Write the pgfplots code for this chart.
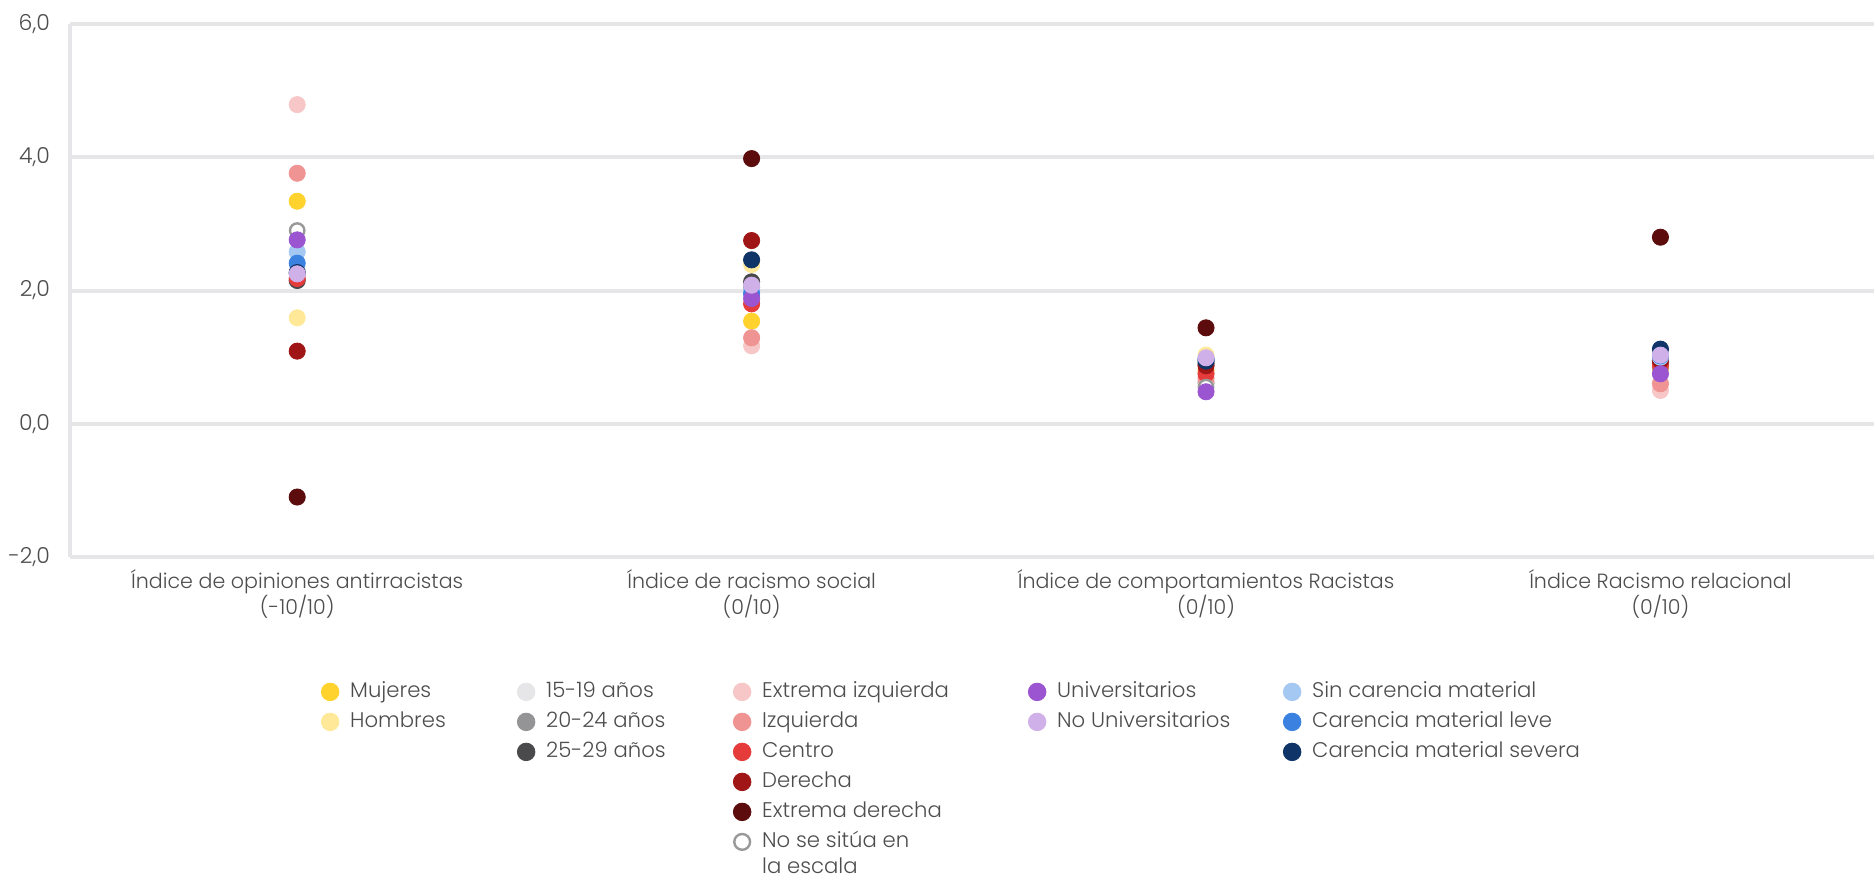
\documentclass[border=0pt]{standalone}
\usepackage{fontspec}
\setmainfont{Poppins}[UprightFont={* Light}]
\usepackage{pgfplots}
\pgfplotsset{compat=1.18}
\definecolor{gridc}{HTML}{E6E6E8}
\definecolor{txt}{HTML}{4D4D4D}
\definecolor{cMuj}{HTML}{FFD22E}
\definecolor{cHom}{HTML}{FFE999}
\definecolor{cA}{HTML}{E6E6E8}
\definecolor{cB}{HTML}{949496}
\definecolor{cC}{HTML}{4A4A4C}
\definecolor{cEI}{HTML}{F7C7C7}
\definecolor{cI}{HTML}{F09393}
\definecolor{cCe}{HTML}{E63B3B}
\definecolor{cD}{HTML}{A01515}
\definecolor{cED}{HTML}{5C0C0C}
\definecolor{cNS}{HTML}{999999}
\definecolor{cU}{HTML}{9B55D0}
\definecolor{cNU}{HTML}{D0B0E8}
\definecolor{cS}{HTML}{A5C8F2}
\definecolor{cL}{HTML}{3B82E0}
\definecolor{cSe}{HTML}{0F3468}
\pgfplotsset{
  dot/.style={only marks, mark=*, mark size=4.05pt, mark options={draw=#1, fill=#1, line width=0.4pt}},
  ring/.style={only marks, mark=*, mark size=3.6pt, mark options={draw=cNS, fill=white, line width=1.2pt}},
  ldot/.style={only marks, mark=*, mark size=4.4pt, mark options={draw=#1, fill=#1, line width=0.4pt}},
  lring/.style={only marks, mark=*, mark size=3.95pt, mark options={draw=cNS, fill=white, line width=1.2pt}},
}
\newcommand{\blank}{\addlegendimage{empty legend}\addlegendentry{}}
\newcommand{\hs}{\hspace*{3.5pt}}
\begin{document}
\fontsize{10}{13}\selectfont
\begin{tikzpicture}[x=1pt,y=1pt]
\begin{axis}[
  at={(0,0)}, anchor=south west,
  scale only axis, width=902pt, height=266.5pt,
  xmin=-0.5, xmax=3.47, ymin=-2, ymax=6,
  clip=false,
  axis lines=left,
  axis line style={-},
  x axis line style={draw=none},
  y axis line style={draw=gridc, line width=2pt},
  ymajorgrids, grid style={draw=gridc, line width=2pt},
  major tick length=0pt,
  ytick={-2,0,2,4,6},
  yticklabels={{-2,0},{0,0},{2,0},{4,0},{6,0}},
  xtick={0,1,2,3},
  xticklabels={{Índice de opiniones antirracistas\\(-10/10)},{Índice de racismo social\\(0/10)},{Índice de comportamientos Racistas\\(0/10)},{Índice Racismo relacional\\(0/10)}},
  xticklabel style={align=center, text=txt, font=\fontsize{10.3}{12.7}\selectfont, yshift=-3pt},
  yticklabel style={text=txt, font=\fontsize{11}{13}\selectfont, xshift=-6.5pt},
  legend image code/.code={\path[draw=none,fill=none] (-4.5pt,-4.5pt) rectangle (4.5pt,4.5pt); \draw[#1] plot coordinates {(0pt,0pt)};},
  legend columns=5,
  legend style={at={(0.139,-0.227)}, anchor=north west, draw=none, fill=none, inner sep=0pt,
    font=\fontsize{10.6}{13}\selectfont, text=txt, row sep=1.5pt,
    nodes={inner sep=2pt, text height=7.5pt, text depth=2pt}},
  legend cell align=left,
]
\addplot[dot=cMuj, forget plot] coordinates {(0,3.34) (1,1.54) (2,0.80) (3,0.82)};
\addplot[dot=cHom, forget plot] coordinates {(0,1.59) (1,2.39) (2,1.03) (3,0.95)};
\addplot[dot=cA, forget plot] coordinates {(0,2.30) (1,2.00) (2,0.75) (3,0.90)};
\addplot[dot=cB, forget plot] coordinates {(0,2.25) (1,2.05) (2,0.62) (3,0.85)};
\addplot[dot=cC, forget plot] coordinates {(0,2.15) (1,2.13) (2,0.90) (3,0.93)};
\addplot[dot=cEI, forget plot] coordinates {(0,4.79) (1,1.17) (2,0.62) (3,0.50)};
\addplot[dot=cI, forget plot] coordinates {(0,3.76) (1,1.29) (2,0.68) (3,0.60)};
\addplot[dot=cCe, forget plot] coordinates {(0,2.18) (1,1.80) (2,0.75) (3,0.88)};
\addplot[dot=cD, forget plot] coordinates {(0,1.09) (1,2.75) (2,0.87) (3,0.95)};
\addplot[dot=cED, forget plot] coordinates {(0,-1.10) (1,3.98) (2,1.44) (3,2.80)};
\addplot[ring, forget plot] coordinates {(0,2.90) (1,2.05) (2,0.55) (3,1.00)};
\addplot[dot=cS, forget plot] coordinates {(0,2.58) (1,2.00) (2,0.98) (3,1.00)};
\addplot[dot=cL, forget plot] coordinates {(0,2.41) (1,1.95) (2,0.97) (3,1.02)};
\addplot[dot=cSe, forget plot] coordinates {(0,2.27) (1,2.46) (2,0.94) (3,1.12)};
\addplot[dot=cU, forget plot] coordinates {(0,2.76) (1,1.88) (2,0.48) (3,0.75)};
\addplot[dot=cNU, forget plot] coordinates {(0,2.25) (1,2.08) (2,0.99) (3,1.03)};
% row 1
\addlegendimage{ldot=cMuj}\addlegendentry{\makebox[85pt][l]{\hs Mujeres}}
\addlegendimage{ldot=cA}\addlegendentry{\makebox[95pt][l]{\hs 15-19 años}}
\addlegendimage{ldot=cEI}\addlegendentry{\makebox[134.5pt][l]{\hs Extrema izquierda}}
\addlegendimage{ldot=cU}\addlegendentry{\makebox[114.5pt][l]{\hs Universitarios}}
\addlegendimage{ldot=cS}\addlegendentry{\hs Sin carencia material}
% row 2
\addlegendimage{ldot=cHom}\addlegendentry{\hs Hombres}
\addlegendimage{ldot=cB}\addlegendentry{\hs 20-24 años}
\addlegendimage{ldot=cI}\addlegendentry{\hs Izquierda}
\addlegendimage{ldot=cNU}\addlegendentry{\hs No Universitarios}
\addlegendimage{ldot=cL}\addlegendentry{\hs Carencia material leve}
% row 3
\blank
\addlegendimage{ldot=cC}\addlegendentry{\hs 25-29 años}
\addlegendimage{ldot=cCe}\addlegendentry{\hs Centro}
\blank
\addlegendimage{ldot=cSe}\addlegendentry{\hs Carencia material severa}
% row 4
\blank\blank
\addlegendimage{ldot=cD}\addlegendentry{\hs Derecha}
\blank\blank
% row 5
\blank\blank
\addlegendimage{ldot=cED}\addlegendentry{\hs Extrema derecha}
\blank\blank
% row 6
\blank\blank
\addlegendimage{lring}\addlegendentry{\parbox[t]{100pt}{\hs No se sitúa en\\\hs la escala}}
\end{axis}
\pgfresetboundingbox
\useasboundingbox (-35,-160) rectangle (902,278.5);
\end{tikzpicture}
\end{document}
